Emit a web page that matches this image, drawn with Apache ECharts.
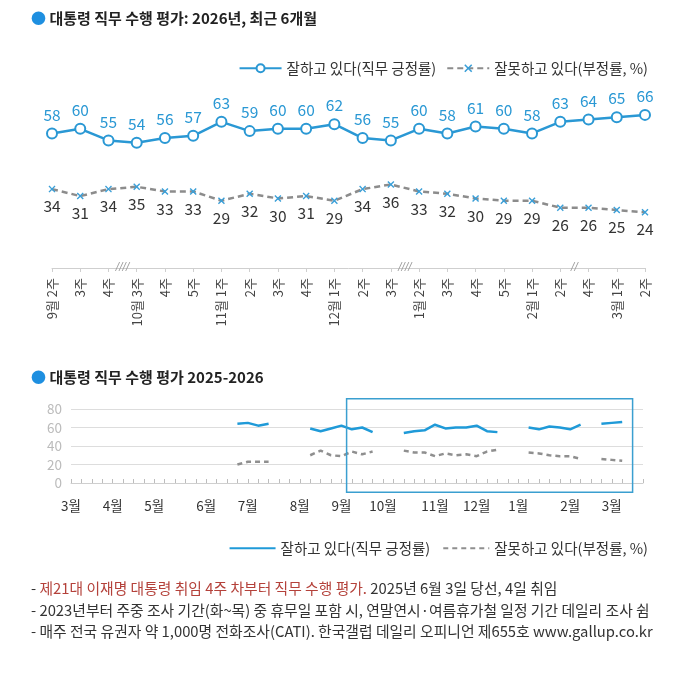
<!DOCTYPE html>
<html><head><meta charset="utf-8">
<script src="https://cdn.jsdelivr.net/npm/echarts@6/dist/echarts.min.js"></script>
<style>html,body{margin:0;padding:0;background:#fff}#c{width:680px;height:686px}</style>
</head><body><div id="c"></div>
<script>
// ---- top chart: last 6 months (weekly) ----
const topWeeks = ['9월 2주','3주','4주','10월 3주','4주','5주','11월 1주','2주','3주','4주','12월 1주','2주','3주','1월 2주','3주','4주','5주','2월 1주','2주','4주','3월 1주','2주'];
const topApprove = [58,60,55,54,56,57,63,59,60,60,62,56,55,60,58,61,60,58,63,64,65,66];
const topDisapprove = [34,31,34,35,33,33,29,32,30,31,29,34,36,33,32,30,29,29,26,26,25,24];
// axis breaks: placed between index i and i+1
const topBreakAfter = [2, 12, 18];
const topBreakText = ['////', '////', '//'];

// ---- bottom chart: 2025-2026 weekly (56 weeks from 2025-03 wk1) ----
const bottomMonthIdx = [0,4,8,13,17,22,26,30,35,39,43,48,52];
const bottomMonthText = ['3월','4월','5월','6월','7월','8월','9월','10월','11월','12월','1월','2월','3월'];
const bottomApprove = [null,null,null,null,null,null,null,null,null,null,null,null,null,null,null,null,
  64,65,62,64, null,null,null, 59,56,59,62, 58,60,55, null,null,
  54,56,57,63,59,60,60,62,56,55, null,null, 60,58,61,60,58,63, null, 64,65,66, null,null];
const bottomDisapprove = [null,null,null,null,null,null,null,null,null,null,null,null,null,null,null,null,
  20,23,23,23, null,null,null, 30,35,30,29, 34,31,34, null,null,
  35,33,33,29,32,30,31,29,34,36, null,null, 33,32,30,29,29,26, null, 26,25,24, null,null];
const bottomWeekCount = 56;
const highlightFrom = 26.5, highlightTo = 54, highlightTop = 91, highlightBottom = -10;

const nameApprove = '잘하고 있다(직무 긍정률)';
const nameDisapprove = '잘못하고 있다(부정률, %)';

const bottomCats = [];
for (let i = 0; i < bottomWeekCount; i++) {
  const j = bottomMonthIdx.indexOf(i);
  bottomCats.push(j >= 0 ? bottomMonthText[j] : '');
}

const FONT = "'Noto Sans CJK KR', 'Noto Sans', sans-serif";
const BLUE = '#2a98d4';
const XPATH = 'path://M0,1.4L1.4,0L5,3.6L8.6,0L10,1.4L6.4,5L10,8.6L8.6,10L5,6.4L1.4,10L0,8.6L3.6,5Z';

const chart = echarts.init(document.getElementById('c'), null, {renderer: 'canvas'});
chart.setOption({
  animation: false,
  textStyle: {fontFamily: FONT},
  title: [
    {text: '{d|●} 대통령 직무 수행 평가: 2026년, 최근 6개월', left: 31, top: 11, padding: 0,
     textStyle: {fontFamily: FONT, fontSize: 15, fontWeight: 'bold', color: '#222',
       rich: {d: {color: '#1e8fe0', fontSize: 15, fontFamily: FONT}}}},
    {text: '{d|●} 대통령 직무 수행 평가 2025-2026', left: 31, top: 370, padding: 0,
     textStyle: {fontFamily: FONT, fontSize: 15, fontWeight: 'bold', color: '#222',
       rich: {d: {color: '#1e8fe0', fontSize: 15, fontFamily: FONT}}}},
    {text: '- {r|제21대 이재명 대통령 취임 4주 차부터 직무 수행 평가.} 2025년 6월 3일 당선, 4일 취임\n' +
           '- 2023년부터 주중 조사 기간(화~목) 중 휴무일 포함 시, 연말연시·여름휴가철 일정 기간 데일리 조사 쉼\n' +
           '- 매주 전국 유권자 약 1,000명 전화조사(CATI). 한국갤럽 데일리 오피니언 제655호 www.gallup.co.kr',
     left: 31, top: 578, padding: 0,
     textStyle: {fontFamily: FONT, fontSize: 14.8, fontWeight: 'normal', color: '#333', lineHeight: 21.5,
       rich: {r: {color: '#b4413a', fontSize: 14.8, fontFamily: FONT, lineHeight: 21.5}}}}
  ],
  legend: [
    {data: [nameApprove, nameDisapprove], right: 27, top: 56, itemWidth: 42, itemHeight: 10, itemGap: 10,
     textStyle: {fontSize: 14.5, color: '#333', fontFamily: FONT}},
    {data: ['b1', 'b2'], right: 27, top: 536, itemWidth: 46, itemHeight: 10, itemGap: 12,
     itemStyle: {opacity: 0},
     formatter: n => n === 'b1' ? nameApprove : nameDisapprove,
     textStyle: {fontSize: 14.5, color: '#333', fontFamily: FONT}}
  ],
  grid: [
    {left: 52, right: 35, top: 36, bottom: 418},
    {left: 71, right: 37, top: 409, bottom: 203}
  ],
  xAxis: [
    {type: 'category', gridIndex: 0, data: topWeeks, boundaryGap: false,
     axisLine: {lineStyle: {color: '#cfcfcf', width: 1}},
     axisTick: {show: true, length: 4, lineStyle: {color: '#cfcfcf'}},
     axisLabel: {rotate: 90, interval: 0, fontSize: 13, color: '#444', margin: 10, fontFamily: FONT}},
    {type: 'category', gridIndex: 1, data: bottomCats, boundaryGap: false,
     axisLine: {lineStyle: {color: '#cfcfcf', width: 1}},
     axisTick: {show: true, inside: true, length: 4, interval: 0, lineStyle: {color: '#bdbdbd'}},
     axisLabel: {interval: 0, fontSize: 13.5, color: '#333', margin: 16, fontFamily: FONT}}
  ],
  yAxis: [
    {type: 'value', gridIndex: 0, min: 0, max: 100, show: false},
    {type: 'value', gridIndex: 1, min: 0, max: 80, interval: 20,
     axisLine: {show: false}, axisTick: {show: false},
     axisLabel: {fontSize: 13.5, color: '#bbbbbb', margin: 9, fontFamily: FONT},
     splitLine: {lineStyle: {color: '#dddddd', width: 1}}}
  ],
  series: [
    {name: nameApprove, type: 'line', xAxisIndex: 0, yAxisIndex: 0, data: topApprove,
     symbol: 'circle', symbolSize: 10,
     itemStyle: {color: '#ffffff', borderColor: BLUE, borderWidth: 2},
     lineStyle: {color: BLUE, width: 2.5},
     label: {show: true, position: 'top', distance: 5, color: BLUE, fontSize: 15.5, fontFamily: FONT}},
    {name: nameDisapprove, type: 'line', xAxisIndex: 0, yAxisIndex: 0, data: topDisapprove,
     symbol: XPATH, symbolSize: 7,
     itemStyle: {color: '#3a9fd8'},
     lineStyle: {color: '#8c8c8c', width: 2.5, type: [6, 4]},
     label: {show: true, position: 'bottom', distance: 6, color: '#333', fontSize: 15.5, fontFamily: FONT}},
    {name: 'b1', type: 'line', xAxisIndex: 1, yAxisIndex: 1, data: bottomApprove,
     symbol: 'none', connectNulls: false, itemStyle: {color: '#1f9ad8'},
     lineStyle: {color: '#1f9ad8', width: 2.5}},
    {name: 'b2', type: 'line', xAxisIndex: 1, yAxisIndex: 1, data: bottomDisapprove,
     symbol: 'none', connectNulls: false, itemStyle: {color: '#8f8f8f'},
     lineStyle: {color: '#8f8f8f', width: 2.5, type: [5, 4]}}
  ]
});

// decorations positioned through the library's scales
const g = [];
const axisY0 = chart.convertToPixel({yAxisIndex: 0}, 0);
topBreakAfter.forEach((i, k) => {
  const x1 = chart.convertToPixel({xAxisIndex: 0}, i);
  const x2 = chart.convertToPixel({xAxisIndex: 0}, i + 1);
  g.push({type: 'text', x: (x1 + x2) / 2, y: axisY0 - 1, z: 10,
    style: {text: topBreakText[k], fill: '#9a9a9a', fontSize: 10, fontStyle: 'italic',
      align: 'center', verticalAlign: 'middle', fontFamily: 'DejaVu Sans'}});
});
const bx1 = (chart.convertToPixel({xAxisIndex: 1}, Math.floor(highlightFrom)) +
             chart.convertToPixel({xAxisIndex: 1}, Math.ceil(highlightFrom))) / 2;
const bx2 = chart.convertToPixel({xAxisIndex: 1}, highlightTo);
const by1 = chart.convertToPixel({yAxisIndex: 1}, highlightTop);
const by2 = chart.convertToPixel({yAxisIndex: 1}, highlightBottom);
g.push({type: 'rect', z: 10, shape: {x: bx1, y: by1, width: bx2 - bx1, height: by2 - by1},
  style: {fill: 'none', stroke: '#3a9fd0', lineWidth: 1.5}});
chart.setOption({graphic: g});
</script>
</body></html>
